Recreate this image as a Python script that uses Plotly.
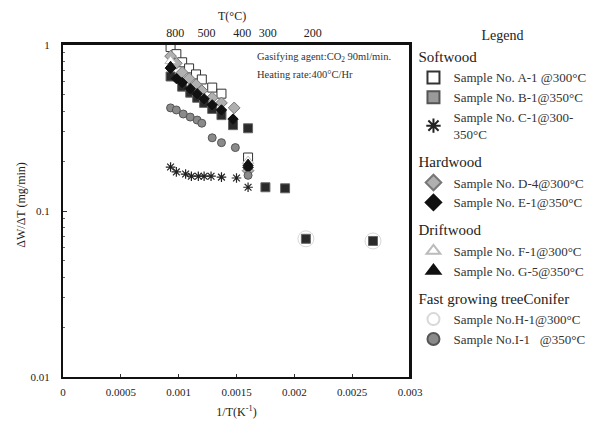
import plotly.graph_objects as go

# ---------------- data ----------------
x_A1 = [0.00093, 0.00098, 0.00103, 0.00109, 0.00115, 0.00120, 0.00129, 0.00137, 0.00160]
y_A1 = [0.972, 0.881, 0.787, 0.723, 0.665, 0.620, 0.554, 0.509, 0.210]

x_B1 = [0.00093, 0.00103, 0.00110, 0.00116, 0.00122, 0.00129, 0.00137, 0.00147, 0.00160, 0.00175, 0.00192, 0.00210, 0.00268]
y_B1 = [0.646, 0.561, 0.516, 0.481, 0.448, 0.412, 0.378, 0.329, 0.315, 0.139, 0.137, 0.068, 0.066]

x_C1 = [0.00093, 0.00098, 0.00106, 0.00111, 0.00117, 0.00122, 0.00128, 0.00137, 0.00150, 0.00160]
y_C1 = [0.184, 0.172, 0.167, 0.162, 0.162, 0.162, 0.162, 0.160, 0.158, 0.139]

x_D4 = [0.00093, 0.00098, 0.00103, 0.00109, 0.00115, 0.00120, 0.00129, 0.00137, 0.00148, 0.00160]
y_D4 = [0.857, 0.776, 0.684, 0.628, 0.577, 0.531, 0.481, 0.448, 0.418, 0.175]

x_E1 = [0.00093, 0.00098, 0.00103, 0.00110, 0.00116, 0.00122, 0.00129, 0.00137, 0.00147, 0.00160]
y_E1 = [0.723, 0.628, 0.594, 0.546, 0.509, 0.474, 0.436, 0.406, 0.358, 0.183]

x_F1 = [0.00093, 0.00160]
y_F1 = [0.80, 0.20]

x_G5 = [0.00093, 0.00160]
y_G5 = [0.75, 0.193]

x_H1 = [0.00210, 0.00268]
y_H1 = [0.068, 0.066]

x_I1 = [0.00093, 0.00098, 0.00104, 0.00110, 0.00116, 0.00120, 0.00129, 0.00137, 0.00149, 0.00160]
y_I1 = [0.418, 0.406, 0.384, 0.368, 0.353, 0.338, 0.276, 0.258, 0.241, 0.164]

x_tick_vals = [0, 0.0005, 0.001, 0.0015, 0.002, 0.0025, 0.003]
x_tick_text = ["0", "0.0005", "0.001", "0.0015", "0.002", "0.0025", "0.003"]
y_tick_vals = [0.01, 0.1, 1]
y_tick_text = ["0.01", "0.1", "1"]
top_T_labels = ["800", "500", "400", "300", "200"]
top_T_pos = [0.00097, 0.00124, 0.00155, 0.00177, 0.00216]   # positions

FONT = "Liberation Serif"

fig = go.Figure()

def add(name, x, y, symbol, size, fill, line, group, gtitle=None, showlegend=True, lw=1):
    fig.add_trace(go.Scatter(
        x=x, y=y, mode="markers", name=name,
        marker=dict(symbol=symbol, size=size, color=fill, line=dict(color=line, width=lw)),
        legendgroup=group,
        legendgrouptitle=dict(text=gtitle, font=dict(size=15, family=FONT, color="#222")) if gtitle else None,
        showlegend=showlegend,
    ))

# Softwood
add("Sample No. A-1 @300°C", x_A1, y_A1, "square", 9, "white", "#333", "soft", "Softwood")
add("Sample No. B-1@350°C", x_B1, y_B1, "square", 9, "#2a2a2a", "#666", "soft", showlegend=False)
add("Sample No. B-1@350°C", [None], [None], "square", 12, "#9a9a9a", "#555", "soft")
add("Sample No. C-1@300-<br>350°C", x_C1, y_C1, "asterisk-open", 8, "#222", "#222", "soft", lw=1.2)
# Hardwood
add("Sample No. D-4@300°C", x_D4, y_D4, "diamond", 9, "#b0b0b0", "#777", "hard", "Hardwood")
add("Sample No. E-1@350°C", x_E1, y_E1, "diamond", 8, "#111", "#111", "hard")
# Driftwood
add("Sample No. F-1@300°C", x_F1, y_F1, "triangle-up", 10, "white", "#bbb", "drift", "Driftwood")
add("Sample No. G-5@350°C", x_G5, y_G5, "triangle-up", 9, "#111", "#111", "drift")
# Fast growing
add("Sample No.H-1@300°C", x_H1, y_H1, "circle", 16, "rgba(255,255,255,0)", "#d8d8d8", "fast", "Fast growing treeConifer")
add("Sample No.I-1   @350°C", x_I1, y_I1, "circle", 8, "#8a8a8a", "#555", "fast")

# invisible trace anchoring the top axis
fig.add_trace(go.Scatter(x=[0.001], y=[None], xaxis="x2", mode="markers",
                         showlegend=False, hoverinfo="skip"))

fig.update_layout(
    width=603, height=420,
    margin=dict(l=55, r=201, t=37, b=51, autoexpand=False),
    paper_bgcolor="white", plot_bgcolor="white",
    font=dict(family=FONT, size=11, color="#222"),
    showlegend=True,
    legend=dict(
        x=1.01, y=1.07, xanchor="left", yanchor="top",
        title=dict(text="Legend", side="top center", font=dict(size=14, family=FONT, color="#222")),
        font=dict(size=13, family=FONT, color="#333"),
        traceorder="grouped", tracegroupgap=6, itemsizing="constant",
        bgcolor="rgba(0,0,0,0)", maxheight=420,
    ),
    xaxis=dict(
        range=[0, 0.003], tickvals=x_tick_vals, ticktext=x_tick_text,
        ticks="inside", ticklen=3, tickcolor="#333", ticklabelstandoff=4,
        showline=True, linewidth=2, linecolor="#111", mirror=False,
        showgrid=False, zeroline=False, automargin=False,
        title=dict(text="1/T(K<sup>-1</sup>)", font=dict(size=12, color="#222"), standoff=10),
    ),
    xaxis2=dict(
        overlaying="x", side="top", range=[0, 0.003],
        tickvals=top_T_pos, ticktext=top_T_labels,
        ticks="", showline=True, linewidth=3, linecolor="#111",
        showgrid=False, zeroline=False, tickfont=dict(size=12), automargin=False,
    ),
    yaxis=dict(
        type="log", range=[-2, 0], tickvals=y_tick_vals, ticktext=y_tick_text,
        ticks="inside", ticklen=4, tickcolor="#333",
        minor=dict(ticks="inside", ticklen=2, tickcolor="#666", dtick="D1", showgrid=False),
        showline=True, linewidth=2, linecolor="#111", mirror=True,
        showgrid=False, zeroline=False, ticklabelstandoff=9, automargin=False,
    ),
    annotations=[
        dict(x=0.553, y=0.962, xref="paper", yref="paper", xanchor="left", yanchor="middle",
             text="Gasifying agent:CO<sub>2</sub> 90ml/min.", showarrow=False,
             font=dict(size=10.5, family=FONT, color="#333")),
        dict(x=0.553, y=0.912, xref="paper", yref="paper", xanchor="left", yanchor="middle",
             text="Heating rate:400°C/Hr", showarrow=False,
             font=dict(size=10.5, family=FONT, color="#333")),
        # top axis title
        dict(x=0.487, y=1.087, xref="paper", yref="paper", xanchor="center", yanchor="middle",
             text="T(°C)", showarrow=False, font=dict(size=12, family=FONT, color="#222")),
        # y axis title
        dict(x=-0.12, y=0.52, xref="paper", yref="paper", xanchor="center", yanchor="middle",
             text="ΔW/ΔT (mg/min)", textangle=-90, showarrow=False,
             font=dict(size=12, family=FONT, color="#222")),
    ],
)

# right-side border line
fig.add_shape(type="line", xref="paper", yref="paper", x0=1, x1=1, y0=0, y1=1,
              line=dict(color="#111", width=2))

fig.write_html("out.html")
